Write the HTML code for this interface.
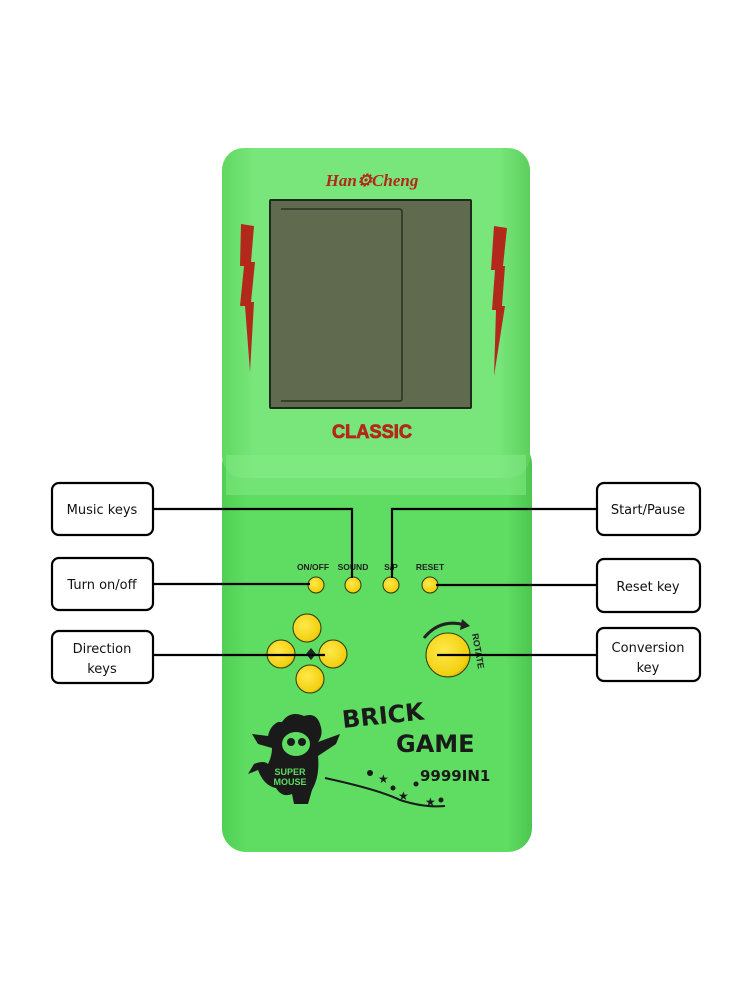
<!DOCTYPE html>
<html><head><meta charset="utf-8"><style>
html,body{margin:0;padding:0;background:#fff;}
svg{display:block;}
</style></head><body>
<svg width="750" height="1000" viewBox="0 0 750 1000" xmlns="http://www.w3.org/2000/svg">
<defs>
<linearGradient id="gt" x1="0" x2="1"><stop offset="0" stop-color="#5fd860"/><stop offset="0.1" stop-color="#78e67a"/><stop offset="0.9" stop-color="#78e67a"/><stop offset="1" stop-color="#5ccf5e"/></linearGradient>
<linearGradient id="gb" x1="0" x2="1"><stop offset="0" stop-color="#4fd053"/><stop offset="0.08" stop-color="#5fdc62"/><stop offset="0.92" stop-color="#5fdc62"/><stop offset="1" stop-color="#4cc650"/></linearGradient>
<radialGradient id="yb" cx="0.4" cy="0.4" r="0.7"><stop offset="0" stop-color="#ffe94a"/><stop offset="0.8" stop-color="#f2cf10"/><stop offset="1" stop-color="#b89a00"/></radialGradient>
</defs>
<rect x="222" y="440" width="310" height="412" rx="24" fill="url(#gb)"/>
<rect x="222" y="148" width="308" height="330" rx="22" fill="url(#gt)"/>
<rect x="226" y="455" width="300" height="40" fill="#86ec88" opacity="0.5"/>
<rect x="269" y="199" width="203" height="210" rx="2" fill="#1e2a1e"/>
<rect x="271" y="201" width="199" height="206" fill="#5f6a4e"/>
<path d="M281 209 H399 Q402 209 402 212 V399 Q402 401 399 401 H281" fill="none" stroke="#2a3122" stroke-width="1.5"/>
<polygon points="241,224 254,226 251,262 255,262 251,302 254,302 250,372 245,306 240,306 244,266 240,266" fill="#b2281b"/>
<polygon points="494,226 507,228 503,266 505,266 502,306 505,306 494,376 496,310 492,310 495,270 491,270" fill="#b2281b"/>
<text x="372" y="186" font-family="Liberation Serif,serif" font-style="italic" font-weight="bold" font-size="17" fill="#b2281b" text-anchor="middle">Han⚙Cheng</text>
<text x="372" y="438" font-family="Liberation Sans,sans-serif" font-weight="bold" font-size="19" fill="#b2281b" stroke="#b2281b" stroke-width="0.8" text-anchor="middle" textLength="80" lengthAdjust="spacingAndGlyphs">CLASSIC</text>
<g font-family="Liberation Sans,sans-serif" font-weight="bold" font-size="8.5" fill="#222" text-anchor="middle">
<text x="313" y="570">ON/OFF</text><text x="353" y="570">SOUND</text><text x="391" y="570">S/P</text><text x="430" y="570">RESET</text>
</g>
<g fill="url(#yb)" stroke="#2a3a10" stroke-width="1">
<circle cx="316" cy="585" r="8"/><circle cx="353" cy="585" r="8"/><circle cx="391" cy="585" r="8"/><circle cx="430" cy="585" r="8"/>
<circle cx="307" cy="628" r="14"/><circle cx="281" cy="654" r="14"/><circle cx="333" cy="654" r="14"/><circle cx="310" cy="679" r="14"/>
<circle cx="448" cy="655" r="22"/>
</g>
<path d="M311 648 L316 654 L311 660 L306 654 Z" fill="#222"/>
<path d="M424 638 Q440 618 465 625" fill="none" stroke="#222" stroke-width="3"/>
<polygon points="462,619 470,626 460,630" fill="#222"/>
<text x="0" y="0" font-family="Liberation Sans,sans-serif" font-weight="bold" font-size="9" fill="#222" transform="translate(472,634) rotate(80)">ROTATE</text>
<g font-family="DejaVu Sans,sans-serif" font-weight="bold" fill="#1a1a1a">
<text x="343" y="728" font-size="24" transform="rotate(-6 343 728)">BRICK</text>
<text x="396" y="752" font-size="24">GAME</text>
<text x="420" y="781" font-size="15">9999IN1</text>
</g>
<!-- mouse -->
<g fill="#1a1a1a">
<path d="M282 722 q8 -12 22 -6 q12 -4 16 8 q4 10 -2 18 l22 -8 l-4 10 l-18 12 q2 20 -6 34 l-4 14 l-14 0 l-2 -10 q-10 4 -16 -6 q-12 -2 -18 -18 l-10 4 l6 -10 q10 -4 14 0 q4 -8 4 -16 l-14 -4 l-6 -10 l16 2 q2 -10 10 -14 z"/>
</g>
<ellipse cx="296" cy="744" rx="14" ry="12" fill="#5fdc62"/>
<circle cx="291" cy="742" r="4" fill="#1a1a1a"/><circle cx="302" cy="742" r="4" fill="#1a1a1a"/>
<text x="290" y="775" font-family="Liberation Sans,sans-serif" font-weight="bold" font-size="9" fill="#5fdc62" text-anchor="middle">SUPER</text>
<text x="290" y="785" font-family="Liberation Sans,sans-serif" font-weight="bold" font-size="9" fill="#5fdc62" text-anchor="middle">MOUSE</text>
<path d="M325 778 Q380 790 400 800 Q425 808 445 806" fill="none" stroke="#1a1a1a" stroke-width="2"/>
<g fill="#1a1a1a" font-size="12" font-family="DejaVu Sans,sans-serif"><circle cx="370" cy="773" r="3"/><text x="378" y="783">★</text><circle cx="393" cy="788" r="2.5"/><text x="398" y="800">★</text><circle cx="416" cy="784" r="2.5"/><text x="425" y="806">★</text><circle cx="441" cy="800" r="2.5"/></g>
<g stroke="#000" stroke-width="2.2" fill="none">
<polyline points="153,509 352,509 352,578"/>
<polyline points="597,509 392,509 392,578"/>
<line x1="153" y1="584" x2="310" y2="584"/>
<line x1="436" y1="585" x2="597" y2="585"/>
<line x1="153" y1="655" x2="325" y2="655"/>
<line x1="437" y1="655" x2="597" y2="655"/>
</g>
<g fill="#fff" stroke="#000" stroke-width="2.2">
<rect x="52" y="483" width="101" height="52" rx="7"/>
<rect x="52" y="558" width="101" height="52" rx="7"/>
<rect x="52" y="631" width="101" height="52" rx="7"/>
<rect x="597" y="483" width="103" height="52" rx="7"/>
<rect x="597" y="559" width="103" height="53" rx="7"/>
<rect x="597" y="628" width="103" height="53" rx="7"/>
</g>
<g font-family="DejaVu Sans,sans-serif" font-size="13" fill="#111" text-anchor="middle">
<text x="102" y="514">Music keys</text>
<text x="102" y="589">Turn on/off</text>
<text x="102" y="653">Direction</text><text x="102" y="673">keys</text>
<text x="648" y="514">Start/Pause</text>
<text x="648" y="591">Reset key</text>
<text x="648" y="652">Conversion</text><text x="648" y="672">key</text>
</g>
</svg>
</body></html>
